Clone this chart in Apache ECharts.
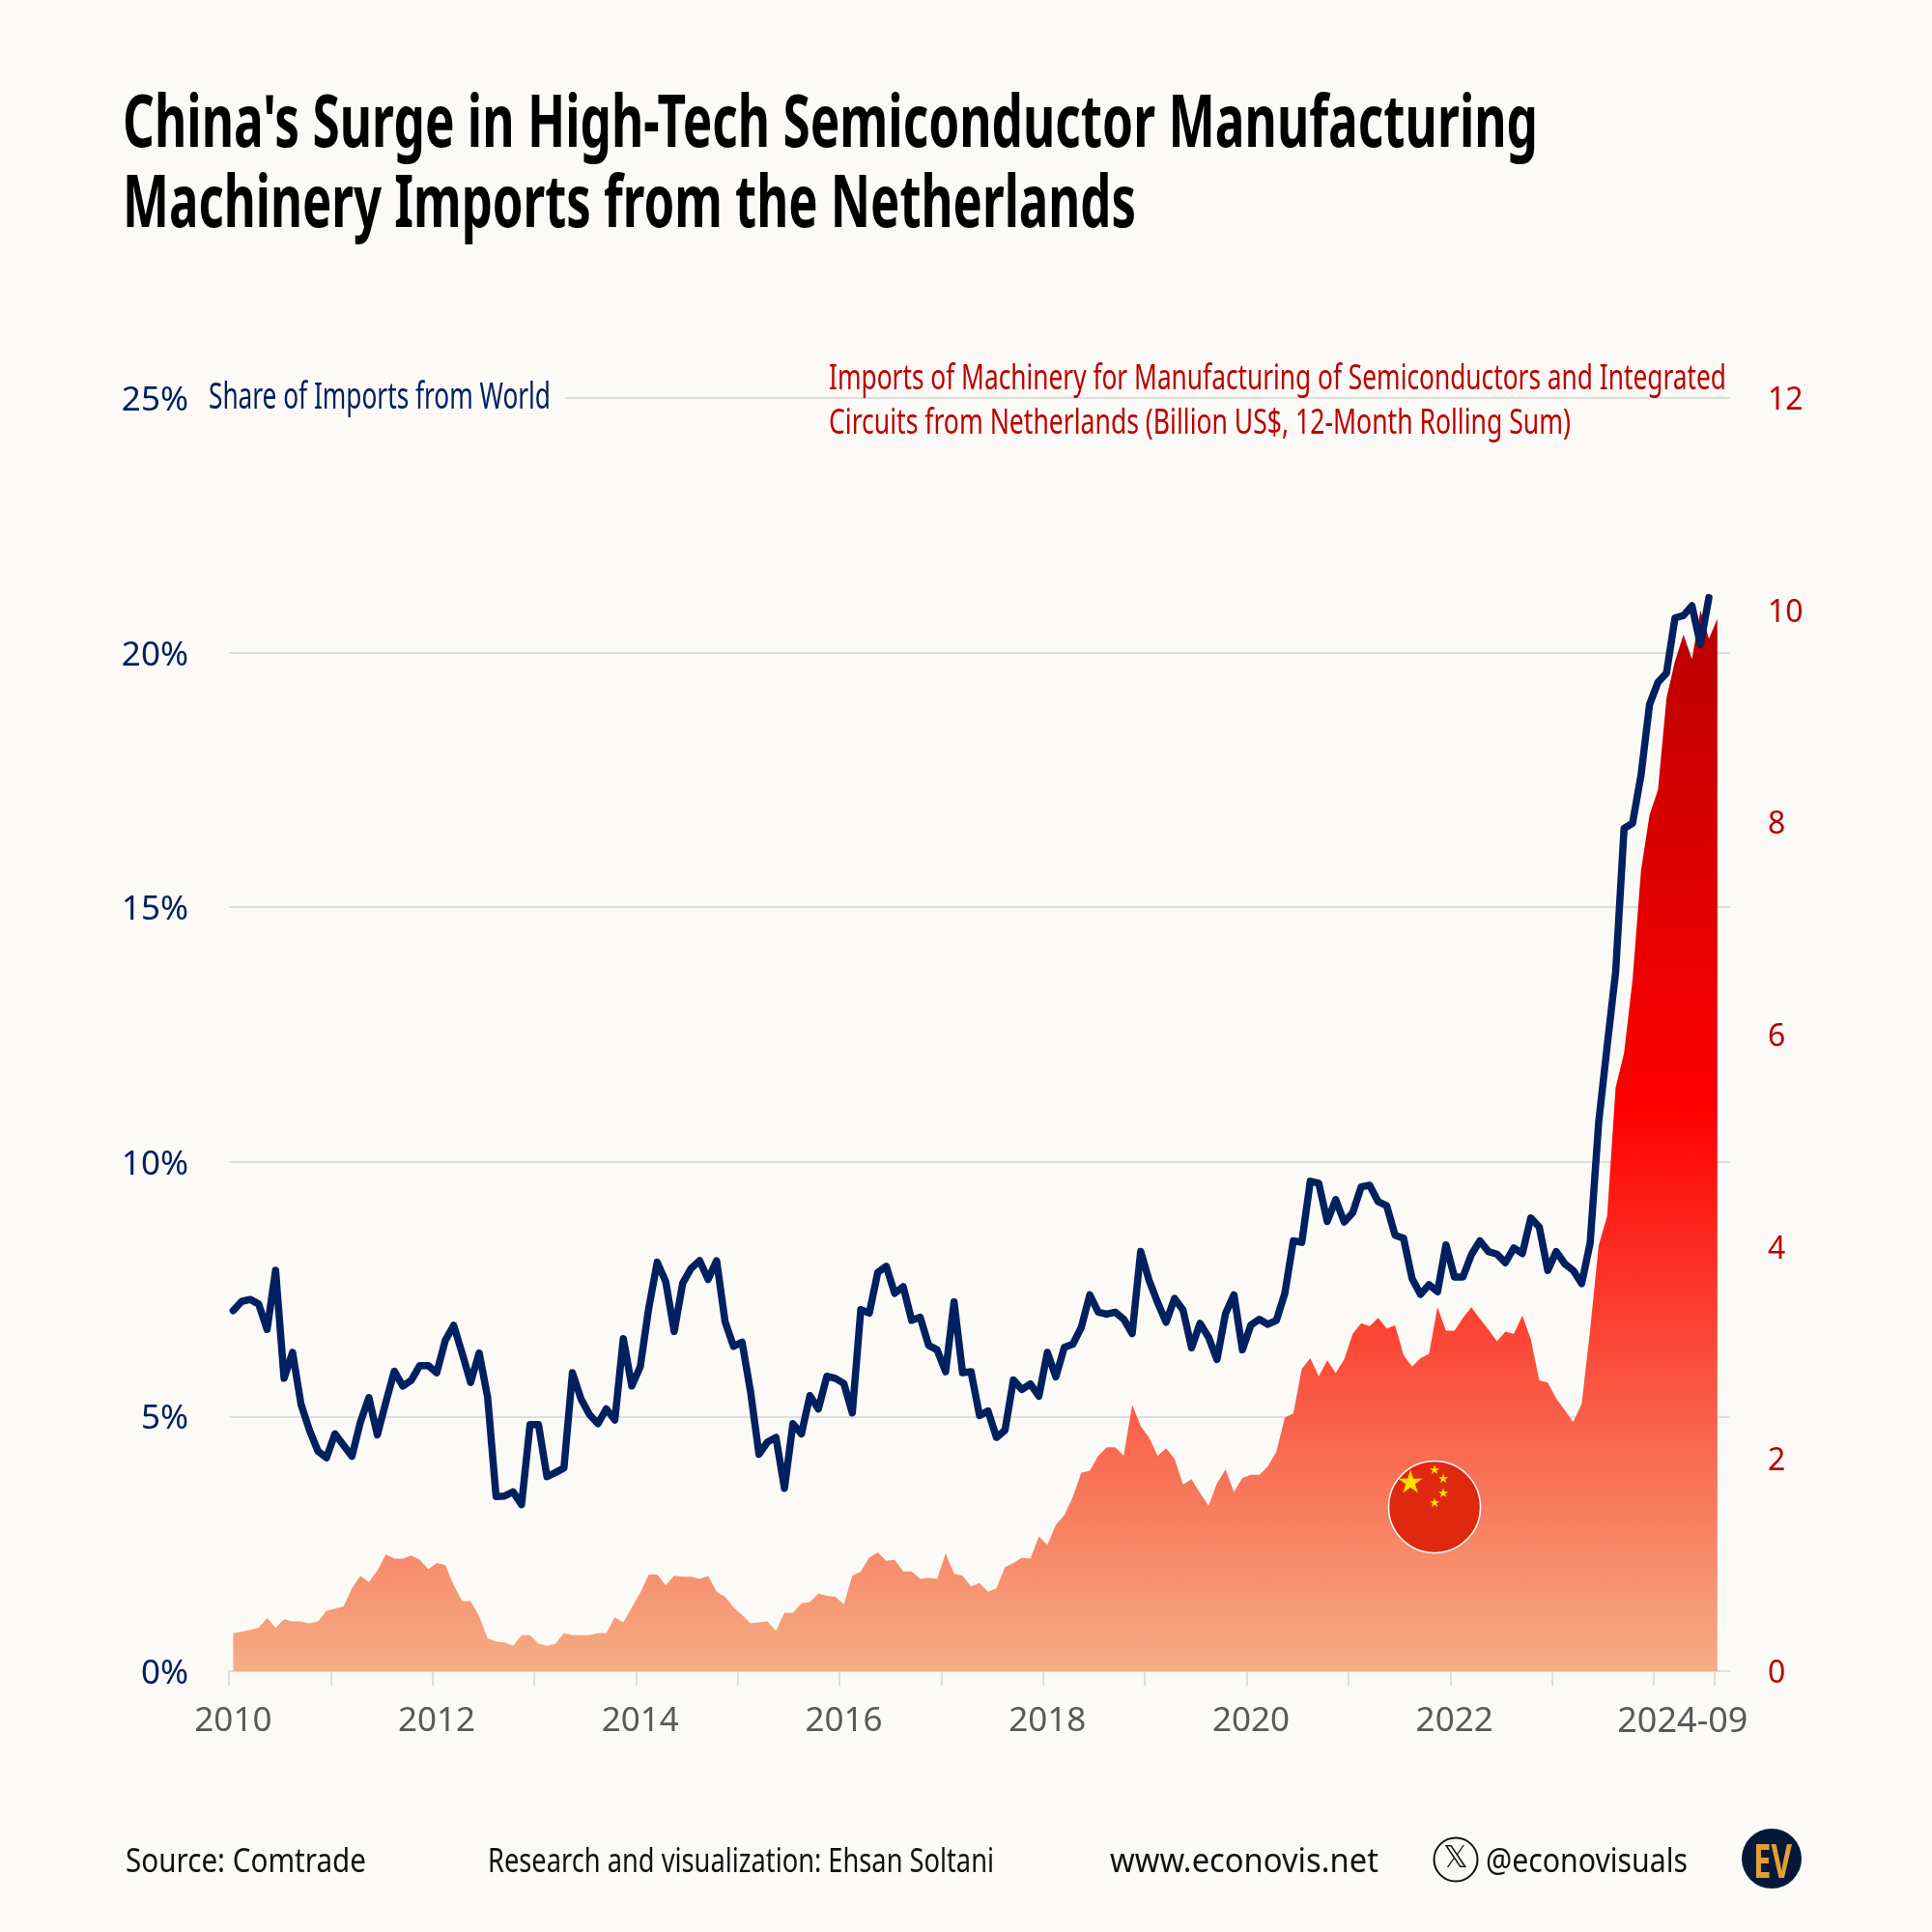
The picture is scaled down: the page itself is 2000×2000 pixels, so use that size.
<!DOCTYPE html>
<html><head><meta charset="utf-8">
<style>html,body{margin:0;padding:0;background:#FBFAF6}#c{width:2000px;height:2000px}</style>
<script src="https://cdn.jsdelivr.net/npm/echarts@6/dist/echarts.min.js"></script>
</head><body><div id="c"></div>
<script>
const shareOfImports = [7.08,7.26,7.30,7.21,6.71,7.87,5.75,6.26,5.24,4.73,4.32,4.19,4.66,4.44,4.22,4.89,5.37,4.64,5.28,5.89,5.60,5.71,6.00,6.00,5.86,6.49,6.79,6.24,5.67,6.25,5.38,3.43,3.44,3.52,3.27,4.84,4.84,3.82,3.90,3.99,5.86,5.35,5.04,4.86,5.15,4.93,6.53,5.60,5.98,7.13,8.03,7.65,6.67,7.62,7.91,8.06,7.69,8.06,6.86,6.38,6.46,5.49,4.26,4.50,4.59,3.59,4.86,4.66,5.41,5.15,5.79,5.75,5.65,5.07,7.10,7.03,7.83,7.95,7.42,7.55,6.89,6.95,6.40,6.31,5.88,7.25,5.86,5.88,5.02,5.11,4.59,4.73,5.72,5.53,5.64,5.40,6.26,5.78,6.36,6.42,6.75,7.39,7.05,7.01,7.05,6.91,6.63,8.24,7.67,7.24,6.85,7.32,7.09,6.35,6.83,6.56,6.12,7.02,7.39,6.31,6.80,6.91,6.81,6.89,7.42,8.45,8.42,9.62,9.58,8.83,9.26,8.82,9.00,9.51,9.54,9.22,9.14,8.56,8.50,7.71,7.40,7.59,7.45,8.37,7.74,7.74,8.18,8.45,8.24,8.19,8.02,8.31,8.20,8.90,8.72,7.87,8.24,8.00,7.87,7.61,8.41,10.77,12.27,13.72,16.55,16.65,17.60,18.98,19.42,19.60,20.68,20.73,20.92,20.16,21.08,null];
const importsBillion = [0.36,0.37,0.39,0.41,0.50,0.41,0.49,0.47,0.47,0.45,0.47,0.57,0.59,0.61,0.78,0.90,0.84,0.95,1.10,1.06,1.06,1.09,1.05,0.96,1.02,1.00,0.81,0.66,0.66,0.52,0.31,0.28,0.27,0.24,0.34,0.34,0.26,0.24,0.26,0.36,0.34,0.34,0.34,0.36,0.36,0.51,0.46,0.60,0.74,0.91,0.91,0.81,0.90,0.89,0.89,0.87,0.90,0.75,0.70,0.60,0.53,0.45,0.46,0.47,0.38,0.55,0.55,0.64,0.65,0.73,0.71,0.70,0.63,0.90,0.94,1.07,1.12,1.04,1.05,0.94,0.94,0.87,0.88,0.87,1.11,0.92,0.90,0.80,0.83,0.75,0.78,0.98,1.02,1.07,1.06,1.27,1.19,1.38,1.47,1.64,1.87,1.89,2.03,2.11,2.11,2.03,2.51,2.31,2.20,2.03,2.10,2.00,1.76,1.81,1.68,1.56,1.77,1.90,1.69,1.82,1.85,1.85,1.93,2.07,2.39,2.43,2.85,2.95,2.78,2.93,2.81,2.94,3.18,3.28,3.25,3.33,3.23,3.26,2.98,2.87,2.95,2.99,3.43,3.21,3.21,3.33,3.43,3.32,3.22,3.11,3.20,3.18,3.35,3.13,2.74,2.72,2.57,2.46,2.35,2.52,3.22,4.01,4.29,5.50,5.83,6.52,7.55,8.07,8.31,9.17,9.52,9.77,9.54,10.00,9.73,9.92];
const leftTicks = [0,5,10,15,20,25];
const rightTicks = [0,2,4,6,8,10,12];
const labelMonths = [0,24,48,72,96,120,144,175];
const labelTexts = ['2010','2012','2014','2016','2018','2020','2022','2024-09'];
const tickMonths = [-0.5,11.5,23.5,35.5,47.5,59.5,71.5,83.5,95.5,107.5,119.5,131.5,143.5,155.5,167.5,174.7];

const NAVY='#002060', RED='#B80000', GREY='#595959', GRID='#DEDEDA', BG='#FBFAF6';
const SANS='"Noto Sans"';
const chart = echarts.init(document.getElementById('c'), null, {renderer:'canvas'});
const mctx = document.createElement('canvas').getContext('2d');
function fitted(x,baseline,text,size,weight,fill,width,align){
  const font=(weight?weight+' ':'')+size+'px '+SANS;
  mctx.font=font;
  const w=mctx.measureText(text).width;
  return {type:'text',z:30,x:x,y:baseline-0.76*size,scaleX:width/w,style:{text:text,font:font,fill:fill,align:align||'left',verticalAlign:'top'}};
}
function star(x,y,size){return {type:'text',z:30,x:x,y:y,style:{text:'★',font:size+'px "DejaVu Sans"',fill:'#FFE000',align:'center',verticalAlign:'middle'}};}
const pairs=(arr)=>arr.map((v,i)=>[i,v]);

chart.setOption({
  animation:false,
  backgroundColor:BG,
  grid:{left:237,top:412,width:1554,height:1318,containLabel:false},
  xAxis:{type:'value',min:-0.5,max:176.5,
    axisLine:{show:true,onZero:false,lineStyle:{color:GRID,width:2}},
    axisTick:{show:true,length:15,customValues:tickMonths,lineStyle:{color:GRID,width:2}},
    axisLabel:{color:GREY,fontFamily:SANS,fontSize:35,margin:35,customValues:labelMonths,
      formatter:(v)=>{const k=labelMonths.indexOf(v);if(k<0)return '';
        return v===175?'{last|'+labelTexts[k]+'}':labelTexts[k];},
      rich:{last:{color:GREY,fontFamily:SANS,fontSize:36,padding:[0,72,0,0]}}},
    splitLine:{show:false}},
  yAxis:[
    {type:'value',min:leftTicks[0],max:leftTicks[5],interval:5,position:'left',
     axisLine:{show:false},axisTick:{show:false},
     axisLabel:{margin:42,formatter:'{a|{value}%}',
       rich:{a:{color:NAVY,fontFamily:SANS,fontSize:35,padding:[6,0,0,0]}}},
     splitLine:{show:true,lineStyle:{color:GRID,width:2}}},
    {type:'value',min:rightTicks[0],max:rightTicks[6],interval:2,position:'right',
     axisLine:{show:false},axisTick:{show:false},
     axisLabel:{margin:39,formatter:'{a|{value}}',
       rich:{a:{color:RED,fontFamily:SANS,fontSize:32,padding:[6,0,0,0]}}},
     splitLine:{show:false}}
  ],
  series:[
    {name:'Imports',type:'line',yAxisIndex:1,data:pairs(importsBillion),showSymbol:false,symbol:'none',z:2,
     lineStyle:{width:0},
     areaStyle:{opacity:1,color:new echarts.graphic.LinearGradient(0,0,0,1,[
       {offset:0,color:'#BA0000'},{offset:0.47,color:'#FF0000'},{offset:1,color:'#F5AE85'}])}},
    {name:'Share',type:'line',yAxisIndex:0,data:pairs(shareOfImports),showSymbol:false,symbol:'none',z:3,
     lineStyle:{width:7.5,color:NAVY,join:'round',cap:'round'}}
  ],
  graphic:[
    fitted(127,150.5,"China's Surge in High-Tech Semiconductor Manufacturing",76,'bold','#000',1465),
    fitted(127,233.5,'Machinery Imports from the Netherlands',76,'bold','#000',1049),
    {type:'rect',z:25,shape:{x:205,y:392,width:380,height:40},style:{fill:BG}},
    fitted(216,422,'Share of Imports from World',38,'',NAVY,354),
    fitted(858,402,'Imports of Machinery for Manufacturing of Semiconductors and Integrated',37,'','#BC0000',929),
    fitted(858,448,'Circuits from Netherlands (Billion US$, 12-Month Rolling Sum)',37,'','#BC0000',768),
    {type:'circle',z:29,shape:{cx:1485,cy:1560,r:47.5},style:{fill:'#DE2910',stroke:'#FFF',lineWidth:1.5}},
    star(1460,1537,32),star(1485,1523,13),star(1494,1532,13),star(1494,1547,13),star(1485,1557,13),
    fitted(130,1937,'Source: Comtrade',34,'','#111',249),
    fitted(505,1937,'Research and visualization: Ehsan Soltani',34,'','#111',524),
    fitted(1149,1937,'www.econovis.net',34,'','#111',278),
    {type:'circle',z:29,shape:{cx:1507,cy:1925,r:22.5},style:{fill:BG,stroke:'#111',lineWidth:2}},
    {type:'text',z:30,x:1507,y:1925,style:{text:'𝕏',font:'32px "DejaVu Sans"',fill:'#111',align:'center',verticalAlign:'middle'}},
    fitted(1538,1937,'@econovisuals',34,'','#111',209),
    {type:'circle',z:29,shape:{cx:1834,cy:1924,r:31},style:{fill:'#06183A'}},
    fitted(1835,1943,'EV',48,'bold','#E0A030',40,'center')
  ]
});
</script></body></html>
